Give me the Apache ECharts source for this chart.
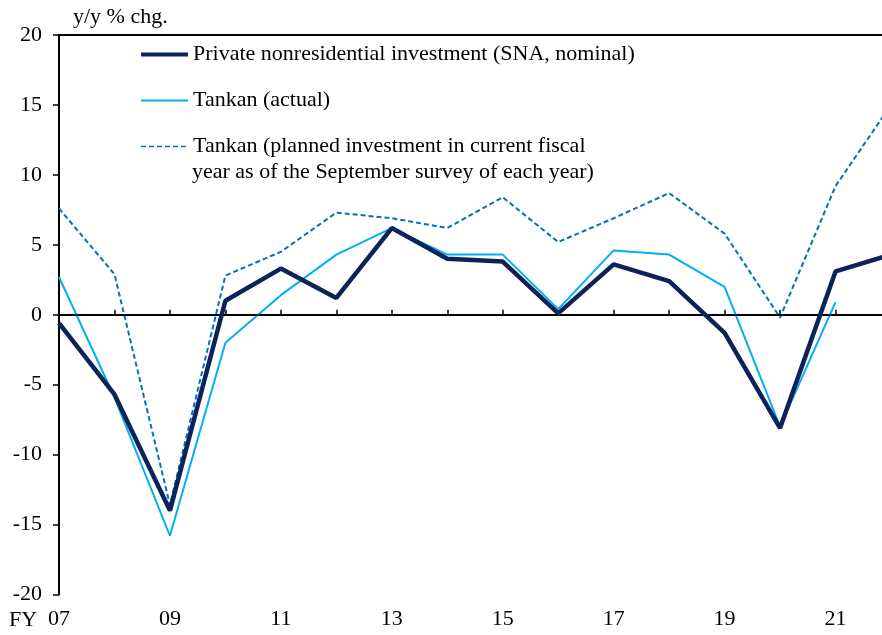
<!DOCTYPE html>
<html>
<head>
<meta charset="utf-8">
<script src="https://cdn.jsdelivr.net/npm/echarts@6/dist/echarts.min.js"></script>
<style>
html,body{margin:0;padding:0;background:#fff;overflow:hidden;width:882px;height:635px;}
#chart{width:891px;height:635px;}
</style>
</head>
<body>
<div id="chart"></div>
<script>
var categories = ['07','08','09','10','11','12','13','14','15','16','17','18','19','20','21','22'];
var yTicks = [-20,-15,-10,-5,0,5,10,15,20];
var snaNominal = [-0.6,-5.7,-14.0,1.0,3.3,1.2,6.2,4.0,3.8,0.1,3.6,2.4,-1.3,-8.1,3.1,4.3];
var tankanActual = [2.7,-5.9,-15.8,-2.0,1.4,4.3,6.2,4.3,4.3,0.4,4.6,4.3,2.0,-8.0,0.9,null];
var tankanPlanned = [7.6,2.9,-13.6,2.8,4.5,7.3,6.9,6.2,8.4,5.2,6.9,8.7,5.8,-0.2,9.2,15.0];
var seriesNames = [
  'Private nonresidential investment (SNA, nominal)',
  'Tankan (actual)',
  'Tankan (planned investment in current fiscal year as of the September survey of each year)'
];
var FONT = 'Liberation Serif';

var chart = echarts.init(document.getElementById('chart'), null, {renderer:'canvas'});
chart.setOption({
  animation:false,
  backgroundColor:'#ffffff',
  textStyle:{fontFamily:FONT},
  grid:{left:59,right:0,top:35,bottom:40.5,containLabel:false},
  legend:{
    orient:'vertical', left:139, top:42, padding:0,
    itemWidth:47, itemHeight:14, itemGap:21,
    itemStyle:{opacity:0},
    textStyle:{fontFamily:FONT,fontSize:22,color:'#000',lineHeight:25},
    data:[
      {name:seriesNames[0], lineStyle:{width:4}},
      {name:seriesNames[1], lineStyle:{width:2}},
      {name:seriesNames[2], lineStyle:{width:1.5}}
    ],
    formatter:function(n){
      return n === seriesNames[2] ? 'Tankan (planned investment in current fiscal' : n;
    }
  },
  graphic:[
    {type:'text', left:192, top:161, style:{text:'year as of the September survey of each year)', font:'22px "Liberation Serif"', fill:'#000'}},
    {type:'text', left:73, top:6, style:{text:'y/y % chg.', font:'22px "Liberation Serif"', fill:'#000'}},
    {type:'text', left:9, top:609, style:{text:'FY', font:'22px "Liberation Serif"', fill:'#000'}}
  ],
  xAxis:[{
    type:'category', data:categories, boundaryGap:false,
    axisLine:{show:true,lineStyle:{color:'#000',width:2}},
    axisTick:{show:true,inside:true,length:5,interval:0,lineStyle:{color:'#000',width:1.5}},
    axisLabel:{interval:1,margin:14,fontFamily:FONT,fontSize:22,color:'#000'},
    splitLine:{show:false}
  },{
    type:'category', data:categories, boundaryGap:false, position:'top',
    axisLine:{show:true,lineStyle:{color:'#000',width:2}},
    axisTick:{show:false}, axisLabel:{show:false}, splitLine:{show:false}
  }],
  yAxis:{
    type:'value', min:-20, max:20, interval:5,
    axisLine:{show:true,lineStyle:{color:'#000',width:2}},
    axisTick:{show:true,inside:false,length:6,lineStyle:{color:'#000',width:1.5}},
    axisLabel:{margin:17,fontFamily:FONT,fontSize:22,color:'#000',
      formatter:function(v){return yTicks.indexOf(v)>=0 ? String(v) : '';}},
    splitLine:{show:false}
  },
  series:[
    {name:seriesNames[0], type:'line', data:snaNominal, symbol:'none', z:5,
     lineStyle:{color:'#0b2358',width:4.5}, itemStyle:{color:'#0b2358'},
     markLine:{silent:true,symbol:'none',label:{show:false},
       lineStyle:{color:'#000',width:1.5,type:'solid'},data:[{yAxis:0}]}},
    {name:seriesNames[1], type:'line', data:tankanActual, symbol:'none', z:4,
     lineStyle:{color:'#00b0f0',width:2}, itemStyle:{color:'#00b0f0'}},
    {name:seriesNames[2], type:'line', data:tankanPlanned, symbol:'none', z:3,
     lineStyle:{color:'#0070c0',width:2,type:[5,3]}, itemStyle:{color:'#0070c0'}}
  ]
});
</script>
</body>
</html>
